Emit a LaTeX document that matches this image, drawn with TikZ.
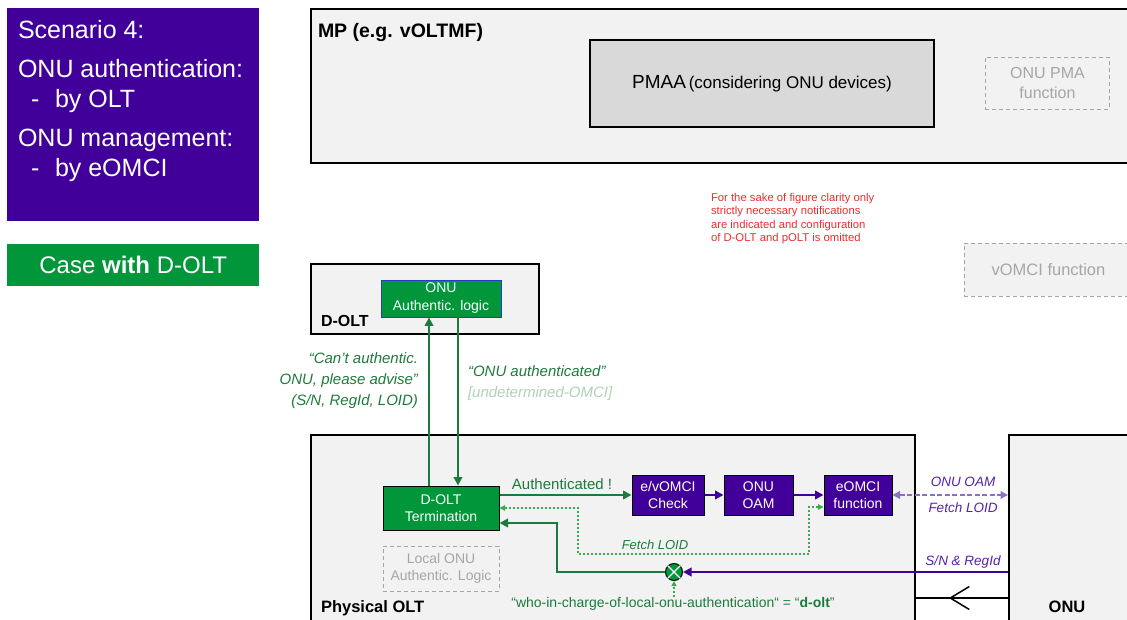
\documentclass[tikz,border=0pt]{standalone}
\usepackage{fontspec}
\setmainfont{Liberation Sans}
\usetikzlibrary{arrows.meta,decorations.markings}
\definecolor{purp}{RGB}{65,0,153}
\definecolor{gbox}{RGB}{0,150,57}
\definecolor{gdark}{RGB}{30,122,60}
\definecolor{glight}{RGB}{60,170,80}
\definecolor{gpale}{RGB}{175,210,180}
\definecolor{plabel}{RGB}{85,35,165}
\definecolor{pdash}{RGB}{140,110,200}
\definecolor{bgray}{RGB}{242,242,242}
\definecolor{pmaagray}{RGB}{217,217,217}
\definecolor{tgray}{RGB}{166,166,166}
\definecolor{rednote}{RGB}{235,45,45}
\definecolor{authb}{RGB}{40,60,200}
\newcommand\fsz[2]{\fontsize{#1}{#2}\selectfont}
\begin{document}
\begin{tikzpicture}[x=1pt,y=-1pt,
  txt/.style={inner sep=0pt, outer sep=0pt},
  frame/.style={draw=black, line width=1.6pt, fill=bgray, anchor=north west, inner sep=0pt},
  gfun/.style={draw=black, line width=1pt, fill=gbox, text=white, align=center, inner sep=0pt, font=\fsz{14}{17}},
  pfun/.style={draw=black, line width=1pt, fill=purp, text=white, align=center, inner sep=0pt, font=\fsz{14}{17}},
  ghost/.style={draw=tgray, dash pattern=on 4pt off 3pt, line width=0.9pt, fill=bgray, text=tgray, align=center, inner sep=0pt},
  garrow/.style={draw=gdark, line width=2.8pt, -{Triangle[length=8.5pt,width=8.5pt]}},
  parrow/.style={draw=purp, line width=2.8pt, -{Triangle[length=8.5pt,width=8.5pt]}},
  gdots/.style={draw=glight, line width=1.1pt, dash pattern=on 2pt off 2pt},
  glab/.style={txt, text=gdark, font=\fsz{15}{21}\itshape},
  plab/.style={txt, text=plabel, font=\fsz{13.5}{16}\itshape},
]
\useasboundingbox (0,0) rectangle (1127,619);
% left panels
\node[fill=purp, anchor=north west, minimum width=252, minimum height=213, inner sep=0pt] (scen) at (7,8) {};
\node[txt, anchor=base west, text=white, font=\fsz{25}{30}] (s1) at (18,38) {Scenario 4:};
\node[txt, anchor=base west, text=white, font=\fsz{25}{30}] (s2) at (18,77) {ONU authentication:};
\node[txt, anchor=base west, text=white, font=\fsz{25}{30}] (s3a) at (31,107) {-};
\node[txt, anchor=base west, text=white, font=\fsz{25}{30}] (s3b) at (55,107) {by OLT};
\node[txt, anchor=base west, text=white, font=\fsz{25}{30}] (s4) at (18,146) {ONU management:};
\node[txt, anchor=base west, text=white, font=\fsz{25}{30}] (s5a) at (31,176) {-};
\node[txt, anchor=base west, text=white, font=\fsz{25}{30}] (s5b) at (55,176) {by eOMCI};
\node[fill=gbox, anchor=north west, minimum width=252, minimum height=42, inner sep=0pt, text=white, font=\fsz{24}{28}] (case) at (7,244) {Case \textbf{with} D-OLT};
% MP
\node[frame, minimum width=830, minimum height=154] (mp) at (310,8) {};
\node[txt, anchor=base west, font=\fsz{19.5}{22}\bfseries] (mpl) at (318,37) {MP (e.g. vOLTMF)};
\node[draw=black, line width=1.6pt, fill=pmaagray, minimum width=344, minimum height=87, inner sep=0pt] (pmaa) at (762,83.5) {{\fsz{19}{22}PMAA}\ {\fsz{17}{20}(considering ONU devices)}};
\node[ghost, anchor=north west, minimum width=124, minimum height=52, font=\fsz{16}{20}] (pma) at (985,57) {ONU PMA\\function};
% note
\node[txt, anchor=north west, align=left, text=rednote, font=\fsz{11.3}{13.6}] (note) at (711,193) {For the sake of figure clarity only\\strictly necessary notifications\\are indicated and configuration\\of D-OLT and pOLT is omitted};
\node[ghost, anchor=north west, minimum width=168, minimum height=53, font=\fsz{16.5}{20}] (vomci) at (964,243) {vOMCI function};
% D-OLT
\node[frame, minimum width=228, minimum height=70] (dolt) at (310,263) {};
\node[txt, anchor=base west, font=\fsz{16}{20}\bfseries] (doltl) at (321,326) {D-OLT};
\node[draw=authb, line width=0.8pt, fill=gbox, text=white, align=center, inner sep=0pt, minimum width=120, minimum height=37, font=\fsz{14}{18}] (auth) at (441,298.5) {ONU\\Authentic. logic};
% Physical OLT and ONU
\node[frame, minimum width=604, minimum height=200] (polt) at (310,434) {};
\node[txt, anchor=base west, font=\fsz{16.5}{20}\bfseries] (poltl) at (321,612) {Physical OLT};
\node[frame, minimum width=140, minimum height=200] (onu) at (1008,434) {};
\node[txt, anchor=base, font=\fsz{16.5}{20}\bfseries] (onul) at (1067,612) {ONU};
% functions
\node[gfun, minimum width=116, minimum height=44] (dterm) at (441,508) {D-OLT\\Termination};
\node[ghost, minimum width=116, minimum height=45, font=\fsz{14}{17}] (local) at (441,568.5) {Local ONU\\Authentic. Logic};
\node[pfun, minimum width=72, minimum height=40] (check) at (668,495) {e/vOMCI\\Check};
\node[pfun, minimum width=69, minimum height=40] (oam) at (758.5,495) {ONU\\OAM};
\node[pfun, minimum width=68, minimum height=40] (eomci) at (858,495) {eOMCI\\function};
\node[circle, draw=black, line width=1pt, fill=gbox, minimum size=17pt, inner sep=0pt] (circ) at (674,572) {};
\draw[white, line width=1.3pt] (circ.north west) -- (circ.south east) (circ.north east) -- (circ.south west);
% vertical arrows
\coordinate (u) at (429,0);
\coordinate (d) at (458,0);
\draw[garrow] (dterm.north -| u) -- (auth.south -| u);
\draw[garrow] (auth.south -| d) -- (dterm.north -| d);
\node[glab, anchor=east, align=right] (lab1) at (418,381) {“Can’t authentic.\\ONU, please advise”\\(S/N, RegId, LOID)};
\node[glab, anchor=west, align=left] (lab2) at (468,383) {“ONU authenticated”\\\textcolor{gpale}{[undetermined-OMCI]}};
% horizontal flow
\draw[garrow] (dterm.east |- check.west) -- (check.west);
\node[txt, text=gdark, font=\fsz{15}{18}] (authd) at (562,484) {Authenticated !};
\draw[parrow] (check.east) -- (oam.west);
\draw[parrow] (oam.east) -- (eomci.west);
\draw[draw=pdash, line width=2.4pt, dash pattern=on 5pt off 2.5pt, {Triangle[length=7.5pt,width=7.5pt]}-{Triangle[length=7.5pt,width=7.5pt]}] (eomci.east) -- (eomci.east -| onu.west);
\node[plab] (oaml) at (963,482) {ONU OAM};
\node[plab] (fetchr) at (963,508) {Fetch LOID};
\node[plab] (snl) at (963,562) {S/N \& RegId};
% dotted fetch loop
\coordinate (f1) at (578,554);
\coordinate (f2) at (809,554);
\draw[gdots, {Triangle[length=5.5pt,width=5.5pt]}-{Triangle[length=5.5pt,width=5.5pt]}] (dterm.east) -| (f1) -- (f2) |- ([yshift=-12pt]eomci.west);
\node[txt, text=gdark, font=\fsz{13}{16}\itshape] (fetchl) at (655,545) {Fetch LOID};
% thick green return
\coordinate (g1) at (557,523);
\draw[garrow] (circ.west) -| (g1) -- ([yshift=-15pt]dterm.east);
\draw[parrow] (onu.west |- circ) -- (circ.east);
\node[txt, text=gdark, font=\fsz{14}{17}] (who) at (673,604) {“who-in-charge-of-local-onu-authentication“ = “\textbf{d-olt}”};
\draw[gdots, -{Triangle[length=5pt,width=5pt]}] (who.north -| circ) -- (circ.south);
% black line with chevron
\coordinate (bl) at (0,598);
\draw[line width=1.5pt, postaction={decorate}, decoration={markings, mark=at position 0.64 with {\arrow{Straight Barb[length=19pt,width=23pt]}}}] (onu.west |- bl) -- (polt.east |- bl);
\end{tikzpicture}
\end{document}
